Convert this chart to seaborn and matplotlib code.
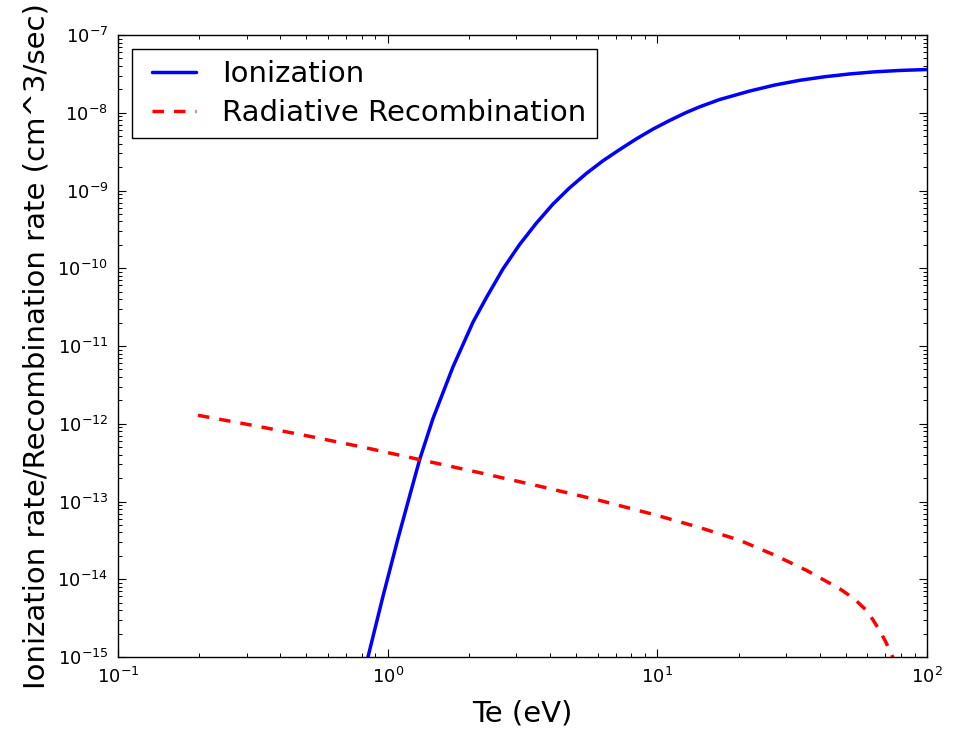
import numpy as np
import pandas as pd
import matplotlib
matplotlib.use("Agg")
import matplotlib.pyplot as plt
import seaborn as sns
from matplotlib.lines import Line2D
from matplotlib.legend_handler import HandlerLine2D

# Ionization rate: Te [eV], log10(rate [cm^3/s])
ion_te = [0.8451, 0.9607, 1.0918, 1.2065, 1.3141, 1.4724, 1.7463, 2.0719,
          2.3226, 2.6763, 3.0862, 3.5590, 4.1014, 4.7293, 5.4546, 6.2843,
          7.2481, 8.3595, 9.6314, 11.109, 12.812, 14.350, 17.022, 21.991,
          27.224, 33.704, 41.725, 51.649, 63.937, 79.138, 100.0]
ion_log_rate = [-15.001, -14.220, -13.478, -12.928, -12.461, -11.933, -11.269,
                -10.694, -10.378, -10.009, -9.694, -9.420, -9.175, -8.965,
                -8.781, -8.618, -8.474, -8.336, -8.211, -8.099, -7.996,
                -7.924, -7.830, -7.721, -7.644, -7.583, -7.537, -7.501,
                -7.474, -7.456, -7.444]

# Radiative recombination rate
rec_te = [0.198, 0.321, 0.528, 0.822, 1.314, 2.19, 3.66, 6.11, 9.97, 14.35,
          20.2, 27.2, 35.7, 47.4, 53.9, 59.6, 63.4, 66.7, 70.2, 73.7, 75.8]
rec_log_rate = [-11.891, -12.025, -12.170, -12.306, -12.461, -12.629, -12.804,
                -12.986, -13.178, -13.335, -13.499, -13.689, -13.885, -14.121,
                -14.256, -14.400, -14.535, -14.658, -14.801, -14.958, -15.059]

labels = ["Ionization", "Radiative Recombination"]
colors = ["#0000ff", "#ff0000"]

df = pd.concat([
    pd.DataFrame({"Te": ion_te, "rate": 10.0 ** np.array(ion_log_rate), "kind": labels[0]}),
    pd.DataFrame({"Te": rec_te, "rate": 10.0 ** np.array(rec_log_rate), "kind": labels[1]}),
], ignore_index=True)

sns.set_style("ticks")
plt.rcParams.update({
    "font.family": ["DejaVu Sans"],
    "text.color": "black",
    "axes.labelcolor": "black",
    "axes.edgecolor": "black",
    "axes.linewidth": 1.0,
    "xtick.direction": "in",
    "ytick.direction": "in",
    "xtick.top": True,
    "ytick.right": True,
    "xtick.color": "black",
    "ytick.color": "black",
    "xtick.labelcolor": "black",
    "ytick.labelcolor": "black",
})

LW = 2.5
DASH = (3.3, 2.9)

fig = plt.figure(figsize=(9.54, 7.29), dpi=100)
ax = fig.add_axes([118 / 954, 1 - 657 / 729, (927 - 118) / 954, (657 - 35) / 729])

sns.lineplot(data=df, x="Te", y="rate", hue="kind", style="kind",
             palette=dict(zip(labels, colors)),
             dashes={labels[0]: "", labels[1]: DASH},
             linewidth=LW, sort=False, estimator=None, ax=ax, legend=False)

ax.set_xscale("log")
ax.set_yscale("log")
ax.set_xlim(0.1, 100)
ax.set_ylim(1e-15, 1e-7)
ax.yaxis.set_major_locator(matplotlib.ticker.LogLocator(base=10, numticks=20))
ax.yaxis.set_minor_locator(matplotlib.ticker.LogLocator(base=10, subs=np.arange(2, 10), numticks=20))
ax.xaxis.set_minor_locator(matplotlib.ticker.LogLocator(base=10, subs=np.arange(2, 10), numticks=20))
ax.yaxis.set_minor_formatter(matplotlib.ticker.NullFormatter())
ax.xaxis.set_minor_formatter(matplotlib.ticker.NullFormatter())

ax.tick_params(which="major", length=5.5, width=0.8, labelsize=13, pad=7,
               direction="in", top=True, right=True, colors="black")
ax.tick_params(which="minor", length=3, width=0.7, direction="in", top=True, right=True)

ax.set_xlabel("Te (eV)", fontsize=21, labelpad=9, color="black")
ax.set_ylabel("Ionization rate/Recombination rate (cm^3/sec)", fontsize=21,
              labelpad=5, color="black")


class ShiftedLine(HandlerLine2D):
    def create_artists(self, legend, orig_handle, xdescent, ydescent, width,
                       height, fontsize, trans):
        shift = 0.315 * fontsize
        return super().create_artists(legend, orig_handle, xdescent - shift,
                                      ydescent, width - shift, height,
                                      fontsize, trans)


handles = [Line2D([], [], color=colors[0], lw=LW),
           Line2D([], [], color=colors[1], lw=LW, linestyle=(0, DASH))]
leg = ax.legend(handles, labels, loc="upper left", fontsize=21, frameon=True,
                fancybox=False, framealpha=1, edgecolor="black",
                handlelength=1.82, handletextpad=0.89, labelspacing=0.37,
                borderpad=0.37, borderaxespad=0.49,
                handler_map={Line2D: ShiftedLine()})
leg.get_frame().set_linewidth(1.0)
for t in leg.get_texts():
    t.set_color("black")

fig.savefig("out.png", dpi=100, facecolor="white")
